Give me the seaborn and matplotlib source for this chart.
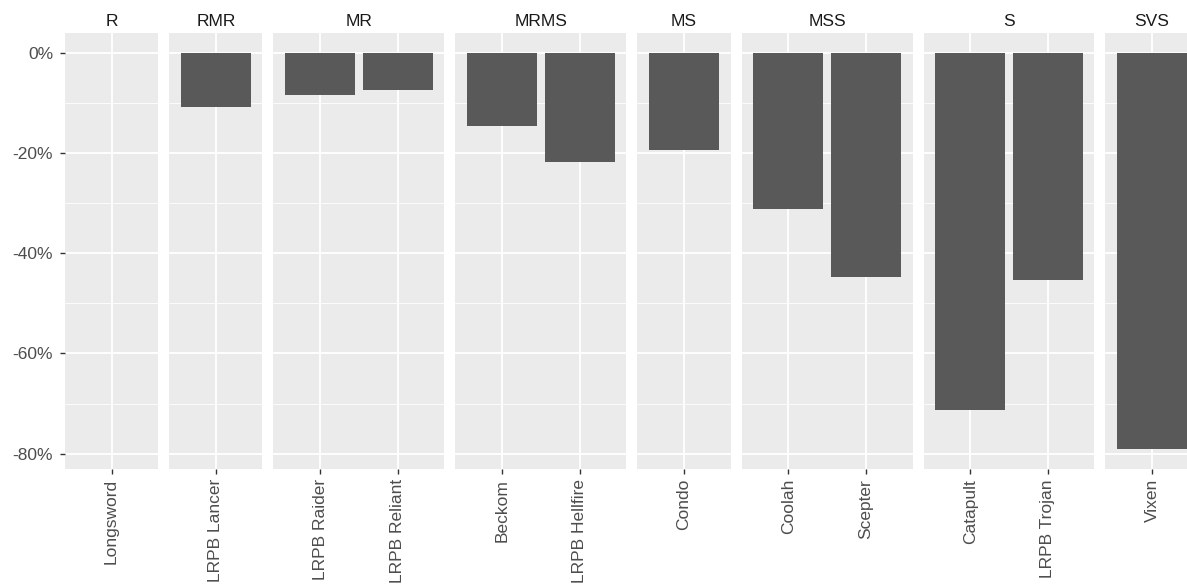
import numpy as np
import pandas as pd
import seaborn as sns
import matplotlib.pyplot as plt
from matplotlib.ticker import FuncFormatter, MultipleLocator

# yield change by variety, grouped by disease rating
groups = ['R', 'RMR', 'MR', 'MR', 'MRMS', 'MRMS', 'MS', 'MSS', 'MSS', 'S', 'S', 'SVS']
varieties = ['Longsword', 'LRPB Lancer', 'LRPB Raider', 'LRPB Reliant', 'Beckom',
             'LRPB Hellfire', 'Condo', 'Coolah', 'Scepter', 'Catapult', 'LRPB Trojan', 'Vixen']
change = [0.0, -10.9, -8.4, -7.5, -14.7, -21.7, -19.4, -31.2, -44.7, -71.3, -45.4, -79.1]
y_ticks = [0, -20, -40, -60, -80]

df = pd.DataFrame({'group': groups, 'variety': varieties, 'change': change})
panels = list(dict.fromkeys(groups))

sns.set_style('darkgrid', {'axes.facecolor': '#EBEBEB', 'grid.color': 'white'})
plt.rcParams['font.family'] = ['Liberation Sans', 'DejaVu Sans']

W, H = 1187, 585
fig = plt.figure(figsize=(W / 100, H / 100), dpi=100)

left, top, bottom = 65, 33, 469
unit, gap = 77.7, 11
lo, hi = min(change), max(change)
span = hi - lo
ylim = (lo - 0.05 * span, hi + 0.05 * span)

x0 = left
for i, g in enumerate(panels):
    sub = df[df.group == g]
    n = len(sub)
    w = (n + 0.2) * unit
    ax = fig.add_axes([x0 / W, (H - bottom) / H, w / W, (bottom - top) / H])
    x0 += w + gap

    sns.barplot(data=sub, x='variety', y='change', order=list(sub.variety),
                color='#595959', saturation=1, width=0.9, linewidth=0, ax=ax)
    ax.set_xlim(-0.6, n - 1 + 0.6)
    ax.set_ylim(*ylim)
    ax.set_yticks(y_ticks)
    ax.yaxis.set_minor_locator(MultipleLocator(10))
    ax.yaxis.set_major_formatter(FuncFormatter(lambda v, p: f'{v:.0f}%'))
    ax.grid(which='major', color='white', linewidth=1.3)
    ax.grid(which='minor', axis='y', color='white', linewidth=0.6)
    ax.set_axisbelow(True)
    for s in ax.spines.values():
        s.set_visible(False)
    ax.set_xlabel('')
    ax.set_ylabel('')
    ax.tick_params(axis='x', rotation=90, labelsize=12.5, labelcolor='#4D4D4D',
                   length=3.6, width=1, color='#333333', pad=3.6, bottom=True)
    for lab in ax.get_xticklabels():
        lab.set_verticalalignment('top')
        lab.set_horizontalalignment('center')
    ax.tick_params(axis='y', which='minor', length=0)
    if i == 0:
        ax.tick_params(axis='y', labelsize=12.5, labelcolor='#4D4D4D',
                       length=3.6, width=1, color='#333333', pad=5, left=True)
    else:
        ax.tick_params(axis='y', labelleft=False, length=0)
    ax.set_title(g, fontsize=12.5, color='#1A1A1A', pad=5)

fig.savefig('out.png', dpi=100, facecolor='white')
